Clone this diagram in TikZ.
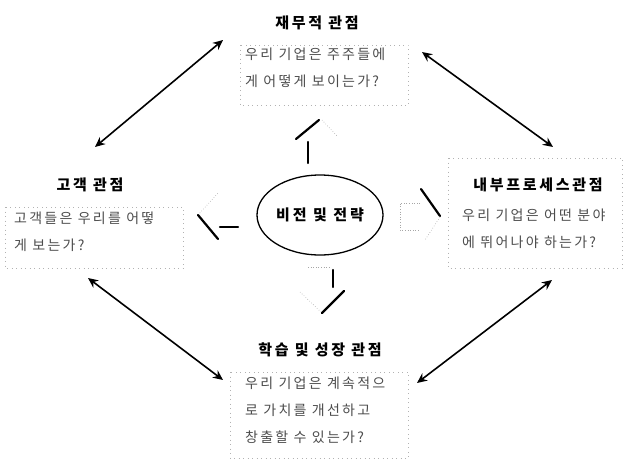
\documentclass[tikz,border=0pt]{standalone}
\usepackage{fontspec}
\setmainfont{Noto Sans CJK KR}
\usepackage{tikz}
\usetikzlibrary{arrows.meta,shapes.geometric}
\tikzset{
    viewtitle/.style={font=\fontsize{15}{17}\selectfont\bfseries\addfontfeature{LetterSpace=18}, inner sep=0pt},
    viewtext/.style={font=\fontsize{14}{27}\selectfont\addfontfeature{LetterSpace=16}, text=black!70, align=left,
        anchor=north west, inner sep=0pt},
    viewbox/.style={draw=black!30, loosely dotted, line width=0.5pt},
    linkarrow/.style={line width=1.6pt, {Stealth[length=10pt,width=9pt]}-{Stealth[length=10pt,width=9pt]}},
    chevron/.style={line width=2.2pt, line cap=round},
    faint/.style={line width=0.6pt, black!35, dotted},
}

\begin{document}
\begin{tikzpicture}[x=1pt,y=-1pt]
\useasboundingbox (0,0) rectangle (624,461);

% vision in the middle
\node[ellipse, draw, line width=1.3pt, minimum width=126pt, minimum height=80pt, inner sep=0pt,
      font=\fontsize{15}{17}\selectfont\bfseries\addfontfeature{LetterSpace=20}] (vision) at (320,215) {비전 및 전략};

% the four views
\node[viewtitle] (fin) at (317,23) {재무적 관점};
\draw[viewbox] (240,45) rectangle (408,105);
\node[viewtext] (fintext) at (245,48) {우리 기업은 주주들에\\게 어떻게 보이는가?};

\node[viewtitle] (cust) at (90,185) {고객 관점};
\draw[viewbox] (5,207) rectangle (183,268);
\node[viewtext] (custtext) at (14,212) {고객들은 우리를 어떻\\게 보는가?};

\node[viewtitle] (proc) at (538,185) {내부프로세스관점};
\draw[viewbox] (448,158) rectangle (622,268);
\node[viewtext] (proctext) at (462,209) {우리 기업은 어떤 분야\\에 뛰어나야 하는가?};

\node[viewtitle] (learn) at (320,350) {학습 및 성장 관점};
\draw[viewbox] (230,372) rectangle (408,458);
\node[viewtext] (learntext) at (245,377) {우리 기업은 계속적으\\로 가치를 개선하고\\창출할 수 있는가?};

% links between the views
\coordinate (fin-w) at (223,40);
\coordinate (fin-e) at (422,52);
\coordinate (cust-n) at (95,147);
\coordinate (cust-s) at (88,278);
\coordinate (proc-n) at (553,147);
\coordinate (proc-s) at (552,280);
\coordinate (learn-w) at (223,380);
\coordinate (learn-e) at (417,383);
\draw[linkarrow] (cust-n) -- (fin-w);
\draw[linkarrow] (fin-e) -- (proc-n);
\draw[linkarrow] (cust-s) -- (learn-w);
\draw[linkarrow] (learn-e) -- (proc-s);

% arrows out of the vision
\draw[chevron] (308,142) -- (308,163);
\draw[chevron] (296,139) -- (319,120);
\draw[faint] (322,120) -- (338,137);

\draw[chevron] (333,270) -- (333,287);
\draw[faint] (308,267) -- (330,267);
\draw[faint] (300,292) -- (321,312);
\draw[chevron] (322,313) -- (344,291);

\draw[chevron] (220,227) -- (238,227);
\draw[faint] (198,215) -- (218,193);
\draw[chevron] (198,215) -- (218,239);

\draw[faint] (420,203) -- (400,203) -- (400,230) -- (420,230);
\draw[chevron] (421,189) -- (440,216);
\draw[faint] (440,217) -- (425,240);
\end{tikzpicture}
\end{document}
